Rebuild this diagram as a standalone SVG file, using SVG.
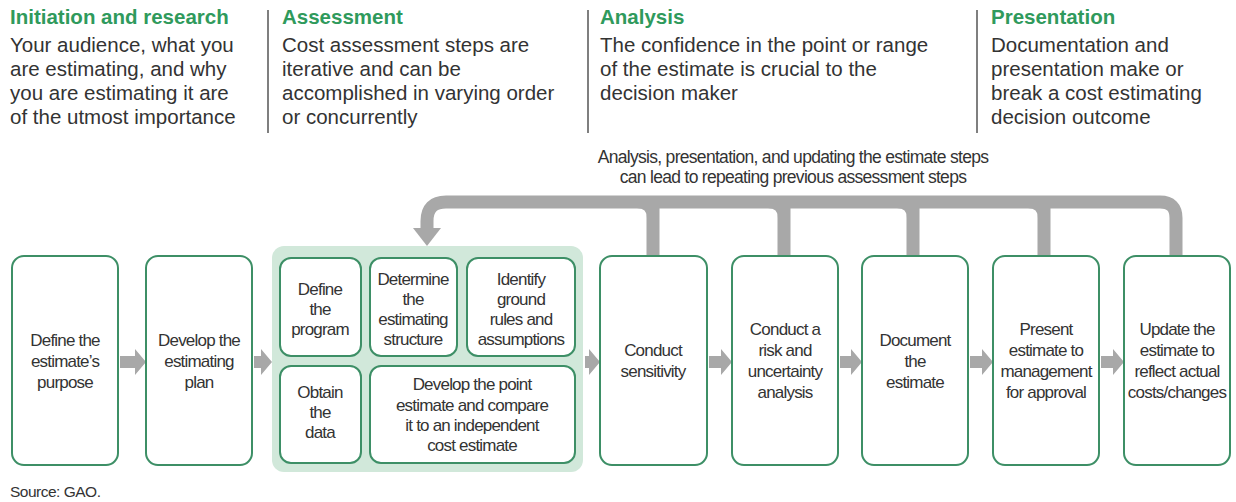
<svg xmlns="http://www.w3.org/2000/svg" width="1236" height="502" viewBox="0 0 1236 502">
<style>
.hd{font-family:"Liberation Sans",Arial,sans-serif;font-size:20.5px;font-weight:bold;fill:#2f9a5c}
.bd{font-family:"Liberation Sans",Arial,sans-serif;font-size:20.5px;fill:#333}
.bx{fill:#fff;stroke:#3d8f66;stroke-width:2}
.t{font-family:"Liberation Sans",Arial,sans-serif;font-size:17px;letter-spacing:-0.8px;fill:#333;text-anchor:middle}
.fb{font-family:"Liberation Sans",Arial,sans-serif;font-size:17.5px;letter-spacing:-0.7px;fill:#333;text-anchor:middle}
.ar{fill:#a8a8a8}
.dv{stroke:#555;stroke-width:1.5}
</style>
<rect width="1236" height="502" fill="#fff"/>
<g id="headers">
<text class="hd" x="10" y="24">Initiation and research</text>
<text class="bd" x="10" y="52">Your audience, what you</text>
<text class="bd" x="10" y="76">are estimating, and why</text>
<text class="bd" x="10" y="100">you are estimating it are</text>
<text class="bd" x="10" y="124">of the utmost importance</text>
<line class="dv" x1="268" y1="10" x2="268" y2="133"/>
<text class="hd" x="282" y="24">Assessment</text>
<text class="bd" x="282" y="52">Cost assessment steps are</text>
<text class="bd" x="282" y="76">iterative and can be</text>
<text class="bd" x="282" y="100">accomplished in varying order</text>
<text class="bd" x="282" y="124">or concurrently</text>
<line class="dv" x1="588" y1="10" x2="588" y2="133"/>
<text class="hd" x="600" y="24">Analysis</text>
<text class="bd" x="600" y="52">The confidence in the point or range</text>
<text class="bd" x="600" y="76">of the estimate is crucial to the</text>
<text class="bd" x="600" y="100">decision maker</text>
<line class="dv" x1="977" y1="10" x2="977" y2="133"/>
<text class="hd" x="991" y="24">Presentation</text>
<text class="bd" x="991" y="52">Documentation and</text>
<text class="bd" x="991" y="76">presentation make or</text>
<text class="bd" x="991" y="100">break a cost estimating</text>
<text class="bd" x="991" y="124">decision outcome</text>
</g>
<g id="connectors">
<path d="M427 229 V221 Q427 202 446 202 H1160 Q1176 202 1176 218 V257" fill="none" stroke="#a8a8a8" stroke-width="13"/>
<path d="M653 202 V257 M784 202 V257 M913 202 V257 M1044 202 V257" fill="none" stroke="#a8a8a8" stroke-width="13"/>
<path class="ar" d="M637 208 Q647 208 647 218 V208 Z M768 208 Q778 208 778 218 V208 Z M897 208 Q907 208 907 218 V208 Z M1028 208 Q1038 208 1038 218 V208 Z"/>
<polygon class="ar" points="413,228 441,228 427,246"/>
<path class="ar" d="M120 356 H135 V349 L146 362 L135 375 V368 H120 Z"/>
<path class="ar" d="M254 356 H261 V349 L272 362 L261 375 V368 H254 Z"/>
<path class="ar" d="M585 356 H589 V349 L600 362 L589 375 V368 H585 Z"/>
<path class="ar" d="M709 356 H721 V349 L732 362 L721 375 V368 H709 Z"/>
<path class="ar" d="M840 356 H851 V349 L862 362 L851 375 V368 H840 Z"/>
<path class="ar" d="M970 356 H982 V349 L993 362 L982 375 V368 H970 Z"/>
<path class="ar" d="M1101 356 H1113 V349 L1124 362 L1113 375 V368 H1101 Z"/>
</g>
<text class="fb" x="793" y="163">Analysis, presentation, and updating the estimate steps</text>
<text class="fb" x="793" y="183">can lead to repeating previous assessment steps</text>
<g id="n1"><rect class="bx" x="12" y="256" width="106" height="209" rx="12"/>
<text class="t" x="65" y="346">Define the</text><text class="t" x="65" y="367">estimate’s</text><text class="t" x="65" y="388">purpose</text></g>
<g id="n2"><rect class="bx" x="146" y="256" width="106" height="209" rx="12"/>
<text class="t" x="199" y="346">Develop the</text><text class="t" x="199" y="367">estimating</text><text class="t" x="199" y="388">plan</text></g>
<g id="assessment"><rect x="272" y="246" width="311" height="226" rx="12" fill="#d1e8da"/></g>
<g id="a1"><rect class="bx" x="280" y="258" width="81" height="98" rx="11"/>
<text class="t" x="320" y="295">Define</text><text class="t" x="320" y="315">the</text><text class="t" x="320" y="335">program</text></g>
<g id="a2"><rect class="bx" x="370" y="258" width="87" height="98" rx="11"/>
<text class="t" x="413" y="285">Determine</text><text class="t" x="413" y="305">the</text><text class="t" x="413" y="325">estimating</text><text class="t" x="413" y="345">structure</text></g>
<g id="a3"><rect class="bx" x="467" y="258" width="108" height="98" rx="11"/>
<text class="t" x="521" y="285">Identify</text><text class="t" x="521" y="305">ground</text><text class="t" x="521" y="325">rules and</text><text class="t" x="521" y="345">assumptions</text></g>
<g id="a4"><rect class="bx" x="280" y="366" width="81" height="97" rx="11"/>
<text class="t" x="320" y="398">Obtain</text><text class="t" x="320" y="418">the</text><text class="t" x="320" y="438">data</text></g>
<g id="a5"><rect class="bx" x="370" y="366" width="205" height="97" rx="11"/>
<text class="t" x="472" y="390">Develop the point</text><text class="t" x="472" y="411">estimate and compare</text><text class="t" x="472" y="431">it to an independent</text><text class="t" x="472" y="451">cost estimate</text></g>
<g id="n3"><rect class="bx" x="600" y="256" width="107" height="209" rx="12"/>
<text class="t" x="653" y="356">Conduct</text><text class="t" x="653" y="377">sensitivity</text></g>
<g id="n4"><rect class="bx" x="732" y="256" width="106" height="209" rx="12"/>
<text class="t" x="785" y="335">Conduct a</text><text class="t" x="785" y="356">risk and</text><text class="t" x="785" y="377">uncertainty</text><text class="t" x="785" y="398">analysis</text></g>
<g id="n5"><rect class="bx" x="862" y="256" width="106" height="209" rx="12"/>
<text class="t" x="915" y="346">Document</text><text class="t" x="915" y="367">the</text><text class="t" x="915" y="388">estimate</text></g>
<g id="n6"><rect class="bx" x="993" y="256" width="106" height="209" rx="12"/>
<text class="t" x="1046" y="335">Present</text><text class="t" x="1046" y="356">estimate to</text><text class="t" x="1046" y="377">management</text><text class="t" x="1046" y="398">for approval</text></g>
<g id="n7"><rect class="bx" x="1124" y="256" width="106" height="209" rx="12"/>
<text class="t" x="1177" y="335">Update the</text><text class="t" x="1177" y="356">estimate to</text><text class="t" x="1177" y="377">reflect actual</text><text class="t" x="1177" y="398">costs/changes</text></g>
<text x="10" y="497" font-family="Liberation Sans, Arial, sans-serif" font-size="15.5" letter-spacing="-0.5" fill="#333">Source: GAO.</text>
</svg>
